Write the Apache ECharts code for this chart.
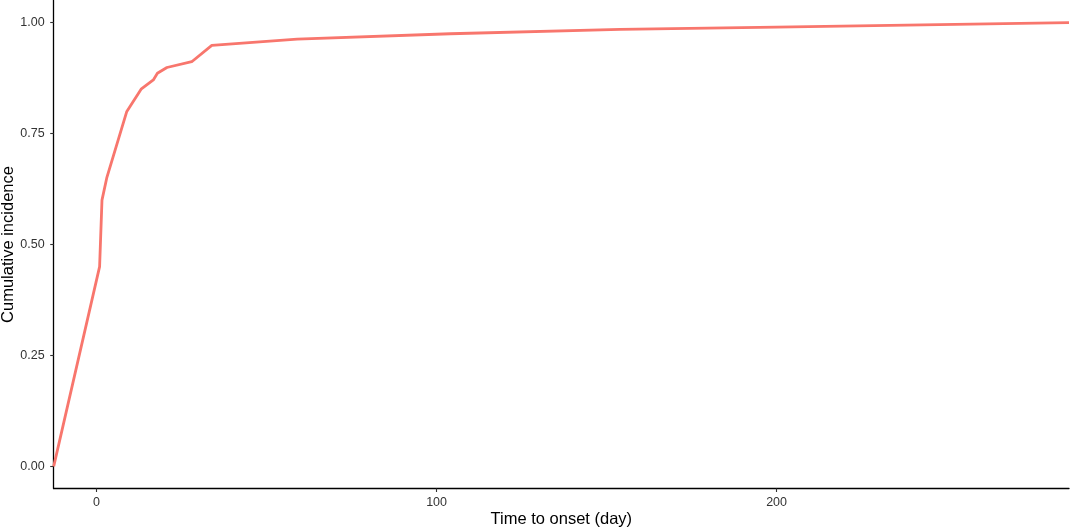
<!DOCTYPE html>
<html>
<head>
<meta charset="utf-8">
<script src="https://cdn.jsdelivr.net/npm/echarts@6/dist/echarts.min.js"></script>
<style>
html,body{margin:0;padding:0;background:#fff;}
#c{width:1072px;height:529px;}
</style>
</head>
<body>
<div id="c"></div>
<script>
// Data
const days = [-12.6, 0.9, 1.6, 3.0, 8.9, 13.1, 16.7, 17.9, 20.7, 28.0, 33.9, 59, 104, 154, 200, 286];
const incidence = [0, 0.45, 0.60, 0.65, 0.80, 0.85, 0.871, 0.886, 0.899, 0.912, 0.949, 0.963, 0.975, 0.985, 0.990, 1.0];
const xTicks = [0, 100, 200];
const yTicks = [0, 0.25, 0.5, 0.75, 1.0];
const xRange = [-12.6, 286];
const yRange = [-0.05, 1.05];

const chart = echarts.init(document.getElementById('c'), null, {renderer: 'canvas'});
const font = '"Liberation Sans", Arial, sans-serif';
chart.setOption({
  animation: false,
  backgroundColor: '#ffffff',
  grid: {left: 53.7, right: 3, top: 0.5, bottom: 40.5, containLabel: false, outerBoundsMode: 'none'},
  xAxis: {
    type: 'value',
    min: xRange[0], max: xRange[1],
    name: 'Time to onset (day)',
    nameLocation: 'middle',
    nameGap: 22,
    nameMoveOverlap: false,
    nameTextStyle: {fontFamily: font, fontSize: 16.5, color: '#000'},
    axisLine: {show: true, onZero: false, lineStyle: {color: '#000', width: 1.3}},
    axisTick: {show: true, length: 3.5, customValues: xTicks, lineStyle: {color: '#333', width: 1.1}},
    axisLabel: {customValues: xTicks, fontFamily: font, fontSize: 12.5, color: '#333', margin: 8},
    splitLine: {show: false}
  },
  yAxis: {
    type: 'value',
    min: yRange[0], max: yRange[1],
    name: 'Cumulative incidence',
    nameLocation: 'middle',
    nameGap: 36.5,
    nameMoveOverlap: false,
    nameTextStyle: {fontFamily: font, fontSize: 16.5, color: '#000'},
    axisLine: {show: true, onZero: false, lineStyle: {color: '#000', width: 1.3}},
    axisTick: {show: true, length: 3.5, customValues: yTicks, lineStyle: {color: '#333', width: 1.1}},
    axisLabel: {customValues: yTicks, fontFamily: font, fontSize: 12.5, color: '#333', margin: 9,
      formatter: v => v.toFixed(2)},
    splitLine: {show: false}
  },
  series: [{
    type: 'line',
    data: days.map((d, i) => [d, incidence[i]]),
    showSymbol: false,
    clip: true,
    lineStyle: {color: '#F8766D', width: 2.8, join: 'round'},
    itemStyle: {color: '#F8766D'}
  }]
});
</script>
</body>
</html>
